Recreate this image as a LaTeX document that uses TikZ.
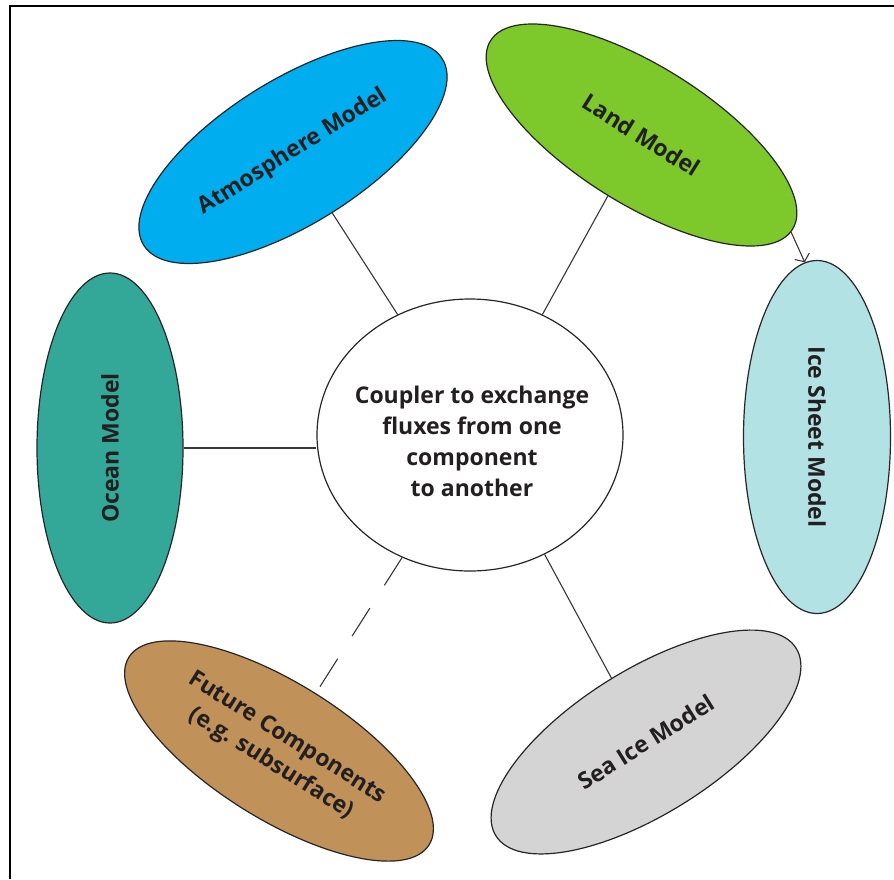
\documentclass[tikz,border=0pt]{standalone}
\usepackage{fontspec}
\setmainfont{Open Sans}
\usetikzlibrary{shapes.geometric,arrows.meta}
\definecolor{atmc}{RGB}{0,174,239}
\definecolor{landc}{RGB}{125,200,42}
\definecolor{oceanc}{RGB}{52,168,152}
\definecolor{icec}{RGB}{178,226,228}
\definecolor{seaicec}{RGB}{212,212,212}
\definecolor{futc}{RGB}{193,145,90}
\definecolor{txt}{RGB}{35,31,32}
\definecolor{linec}{RGB}{55,55,55}
\begin{document}
\begin{tikzpicture}[x=1pt,y=-1pt,
  comp/.style={ellipse, draw=black!85, line width=1.2pt, inner sep=0pt,
    font=\bfseries\fontsize{23}{30}\selectfont, text=txt, align=center},
  link/.style={draw=linec, line width=1.1pt},
  frameline/.style={draw=black, line width=2pt}]
\useasboundingbox (0,0) rectangle (894,879);
\fill[white] (0,0) rectangle (894,879);
\draw[frameline] (10,879) -- (10,6) -- (894,6);

\node[comp, fill=atmc, rotate=32, minimum width=352pt, minimum height=144pt] (atm) at (293,152) {Atmosphere Model};
\node[comp, fill=landc, rotate=-32, minimum width=356pt, minimum height=138pt] (land) at (641.5,135) {Land Model};
\node[comp, fill=oceanc, minimum width=146pt, minimum height=350pt] (ocean) at (110,448) {\rotatebox{90}{Ocean Model}};
\node[comp, fill=icec, minimum width=147pt, minimum height=353pt] (ice) at (817,437) {\rotatebox{-90}{Ice Sheet Model}};
\node[comp, fill=seaicec, rotate=32, minimum width=354pt, minimum height=144pt] (seaice) at (646,742) {Sea Ice Model};
\node[comp, fill=futc, rotate=-32, minimum width=354pt, minimum height=136pt] (future) at (279,751) {Future Components\\(e.g. subsurface)};

\node[ellipse, draw=black!85, line width=1.2pt, minimum width=306pt, minimum height=272pt, inner sep=0pt] (coupler) at (470,435) {};
\node[font=\bfseries\fontsize{23}{31}\selectfont, text=txt, align=center] (couplertext) at (472,441) {Coupler to exchange\\fluxes from one\\component\\to another};

\draw[link] (coupler.121) -- (atm);
\draw[link] (coupler.59.5) -- (land);
\draw[link] (ocean.east) -- (ocean.east -| coupler.west);
\draw[link] (coupler.-58.5) -- (seaice);
\draw[link, dash pattern=on 33pt off 27pt] (coupler.-119.5) -- (future);
\draw[link, -{Straight Barb[length=6pt,width=16pt]}] (land.-1) -- (ice.94);
\end{tikzpicture}
\end{document}
